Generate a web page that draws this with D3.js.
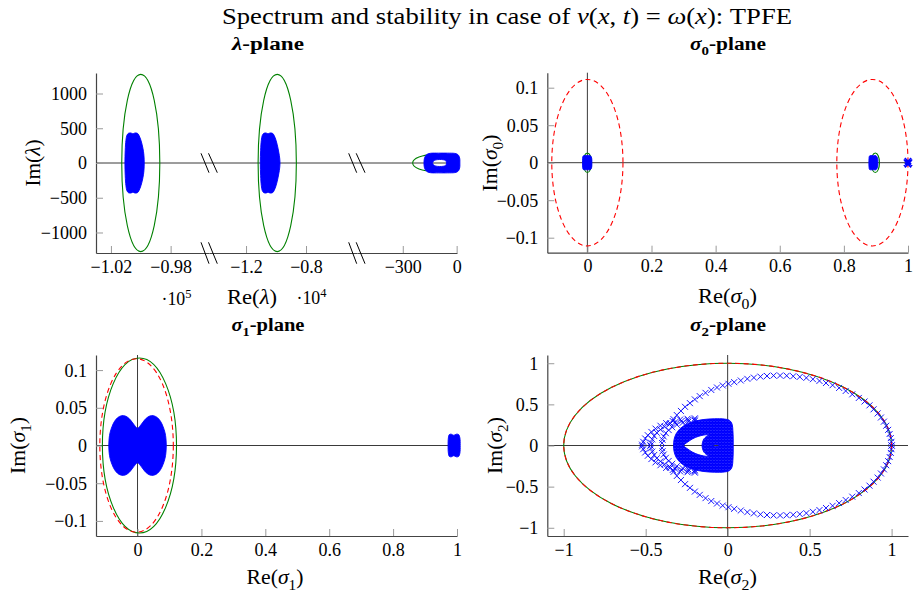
<!DOCTYPE html>
<html><head><meta charset="utf-8">
<script src="https://cdn.jsdelivr.net/npm/d3@7"></script>
<style>
body{margin:0;background:#fff}
svg text{font-family:"Liberation Serif","Times New Roman",serif;fill:#000}
</style>
</head><body>
<svg id="c" width="916" height="594">
<defs>
<pattern id="xpat" width="3" height="3" patternUnits="userSpaceOnUse">
<rect width="3" height="3" fill="#fff"/>
<path d="M0,0L3,3M0,3L3,0" stroke="#0000ff" stroke-width="1.7"/>
</pattern>
</defs>
</svg>
<script>
// ---------------- DATA ----------------
// lambda-plane (three broken x-axis segments)
const lamSegDomains = [[-103000, -95430], [-14470, -4600], [-555, 2]];
const lamSegTicks = [[-102000, -98000], [-12000, -8000], [-300, 0]];
const lamSegTickLabels = [["−1.02", "−0.98"], ["−1.2", "−0.8"], ["−300", "0"]];
const lamYDomain = [-1295, 1295];
const lamYTicks = [-1000, -500, 0, 500, 1000];
const lamYTickLabels = ["−1000", "−500", "0", "500", "1000"];
const lamGreenCircles = [[0, -100000, 1275], [1, -9920, 1275], [2, -125, 120]]; // [segment, centre, radius]
const lamBlob1Upper = [[-101062,0],[-101042,183],[-100995,327],[-100928,399],[-100827,427],[-100660,432],[-100526,420],[-100392,432],[-100224,427],[-100124,399],[-99990,327],[-99856,212],[-99789,111],[-99769,0]];
const lamBlob2Upper = [[-11047,0],[-11027,183],[-10980,327],[-10913,399],[-10813,427],[-10667,432],[-10533,420],[-10400,432],[-10233,427],[-10133,399],[-10000,327],[-9867,212],[-9780,111],[-9733,0]];
const lamRingOuterUpper = [[-182,0],[-180,60],[-174,100],[-162,128],[-145,140],[-100,142],[-50,142],[-10,138],[5,125],[14,95],[18,50],[18,0]];
const lamRingInnerUpper = [[-134,0],[-128,30],[-115,45],[-95,50],[-75,47],[-62,35],[-56,0]];

// sigma0-plane
const s0XDomain = [-0.125, 1.0];
const s0YDomain = [-0.12, 0.12];
const s0XTicks = [0, 0.2, 0.4, 0.6, 0.8, 1];
const s0XTickLabels = ["0", "0.2", "0.4", "0.6", "0.8", "1"];
const s0YTicks = [-0.1, -0.05, 0, 0.05, 0.1];
const s0YTickLabels = ["−0.1", "−0.05", "0", "0.05", "0.1"];
const s0RedCircles = [[0, 0.111], [0.889, 0.111]];
const s0GreenCircles = [[0, 0.013], [0.898, 0.013]];
const s0Blob1Upper = [[-0.015,0],[-0.0148,0.006],[-0.013,0.009],[-0.008,0.0095],[0,0.0093],[0.008,0.0095],[0.012,0.008],[0.014,0.004],[0.014,0]];
const s0Blob2Upper = [[0.878,0],[0.8785,0.006],[0.88,0.009],[0.885,0.0095],[0.892,0.0093],[0.899,0.0095],[0.903,0.008],[0.906,0.004],[0.906,0]];
const s0Crosses = [[0.997,0],[1.0,0.002],[1.0,-0.002],[1.003,0]];

// sigma1-plane
const s1XDomain = [-0.13, 1.0];
const s1YDomain = [-0.12, 0.12];
const s1XTicks = [0, 0.2, 0.4, 0.6, 0.8, 1];
const s1XTickLabels = ["0", "0.2", "0.4", "0.6", "0.8", "1"];
const s1YTicks = [-0.1, -0.05, 0, 0.05, 0.1];
const s1YTickLabels = ["−0.1", "−0.05", "0", "0.05", "0.1"];
const s1GreenCircles = [[0.006, 0.116]];
const s1RedCircles = [[-0.003, 0.115]];
const s1BlobUpper = [[-0.09,0],[-0.089,0.009],[-0.086,0.017],[-0.08,0.025],[-0.072,0.032],[-0.062,0.037],[-0.05,0.0395],[-0.038,0.039],[-0.027,0.036],[-0.017,0.031],[-0.008,0.026],[0,0.023],[0.008,0.026],[0.017,0.031],[0.027,0.036],[0.038,0.039],[0.05,0.0395],[0.062,0.037],[0.072,0.032],[0.08,0.025],[0.086,0.017],[0.089,0.009],[0.09,0]];
const s1Blob2Upper = [[0.972,0],[0.973,0.01],[0.976,0.0145],[0.982,0.015],[0.99,0.0135],[0.998,0.015],[1.005,0.0145],[1.009,0.01],[1.01,0]];

// sigma2-plane
const s2XDomain = [-1.1, 1.1];
const s2YDomain = [-1.1, 1.1];
const s2XTicks = [-1, -0.5, 0, 0.5, 1];
const s2XTickLabels = ["−1", "−0.5", "0", "0.5", "1"];
const s2YTicks = [-1, -0.5, 0, 0.5, 1];
const s2YTickLabels = ["−1", "−0.5", "0", "0.5", "1"];
const s2GreenCircles = [[0, 1]];
const s2RedCircles = [[0, 1]];
const s2LoopUpper = [[-0.35,0.27],[-0.33,0.32],[-0.31,0.37],[-0.285,0.42],[-0.26,0.47],[-0.23,0.515],[-0.20,0.56],[-0.17,0.60],[-0.135,0.64],[-0.10,0.675],[-0.065,0.705],[-0.03,0.73],[0.005,0.75],[0.04,0.77],[0.08,0.79],[0.12,0.81],[0.16,0.825],[0.20,0.837],[0.24,0.845],[0.28,0.85],[0.32,0.85],[0.36,0.848],[0.40,0.842],[0.44,0.834],[0.48,0.822],[0.52,0.806],[0.56,0.785],[0.60,0.76],[0.64,0.733],[0.68,0.70],[0.72,0.663],[0.76,0.622],[0.80,0.578],[0.835,0.535],[0.865,0.488],[0.89,0.44],[0.915,0.39],[0.935,0.34],[0.953,0.29],[0.967,0.24],[0.979,0.19],[0.988,0.14],[0.995,0.09],[0.999,0.045],[1.0,0.0]];
const s2Arc1Upper = [[-0.20,0.33],[-0.245,0.325],[-0.29,0.315],[-0.335,0.297],[-0.375,0.272],[-0.41,0.24],[-0.44,0.205],[-0.465,0.165],[-0.487,0.125],[-0.503,0.085],[-0.515,0.045],[-0.522,0.01]];
const s2Arc2Upper = [[-0.20,0.315],[-0.24,0.31],[-0.28,0.30],[-0.32,0.283],[-0.355,0.258],[-0.385,0.228],[-0.41,0.193],[-0.432,0.155],[-0.448,0.115],[-0.46,0.075],[-0.468,0.035],[-0.471,0.0]];
const s2Arc3Upper = [[-0.20,0.30],[-0.24,0.29],[-0.275,0.275],[-0.31,0.252],[-0.338,0.222],[-0.36,0.188],[-0.377,0.15],[-0.39,0.11],[-0.397,0.07],[-0.40,0.03]];
const s2CoreUpper = [[-0.33,0],[-0.327,0.07],[-0.315,0.14],[-0.29,0.205],[-0.255,0.255],[-0.21,0.29],[-0.15,0.315],[-0.08,0.325],[-0.02,0.322],[0.012,0.305],[0.027,0.26],[0.032,0.18],[0.034,0.08],[0.034,0]];
const s2CoreHoleUpper = [[-0.268,0],[-0.245,0.04],[-0.215,0.08],[-0.18,0.11],[-0.145,0.127],[-0.116,0.131],[-0.13,0.11],[-0.145,0.08],[-0.153,0.04],[-0.156,0]];
const s2CoreNotchUpper = [[-0.088,0],[-0.08,0.01],[-0.065,0.012],[-0.055,0.006],[-0.053,0]];

// ---------------- LAYOUT ----------------
const BLUE = "#0000ff", GREEN = "#008000", RED = "#ff0000";
const AXIS = "#444", TICK = "#9a9a9a", ZERO = "#3a3a3a";
const FS_TICK = 18, FS_LABEL = 20, FS_SUB = 18, FS_TITLE = 24;
const svg = d3.select("#c");

function closed(upper) {
  const low = upper.slice(1, -1).reverse().map(p => [p[0], -p[1]]);
  return upper.concat(low);
}
function mirror(pts) { return pts.concat(pts.map(p => [p[0], -p[1]])); }

function rich(sel, parts, fs) {
  let shift = 0;
  parts.forEach(([t, st]) => {
    st = st || [];
    const ts = sel.append("tspan").text(t);
    let target = 0;
    if (st.includes("sub")) target = fs * 0.3;
    if (st.includes("sup")) target = -fs * 0.4;
    if (target !== shift) { ts.attr("dy", target - shift); shift = target; }
    if (st.includes("sub") || st.includes("sup")) ts.attr("font-size", fs * 0.7);
    if (st.includes("i")) ts.attr("font-style", "italic");
    if (st.includes("b")) ts.attr("font-weight", "bold");
  });
}
function label(x, y, parts, fs, anchor, opts) {
  opts = opts || {};
  const t = svg.append("text").attr("x", x).attr("y", y).attr("font-size", fs)
    .attr("text-anchor", anchor || "middle");
  if (opts.rotate) t.attr("transform", `rotate(-90 ${x} ${y})`);
  if (opts.len) t.attr("textLength", opts.len).attr("lengthAdjust", "spacingAndGlyphs");
  rich(t, parts, fs);
  return t;
}
function styleAxis(g) {
  g.attr("font-family", null).attr("font-size", null);
  g.select(".domain").attr("stroke", AXIS).attr("stroke-width", 1.2);
  g.selectAll(".tick line").attr("stroke", TICK).attr("stroke-width", 1);
  g.selectAll(".tick text").attr("font-size", FS_TICK).attr("fill", "#000");
}
function crosses(g, pts, x, y, s, w) {
  const d = pts.map(([a, b]) => {
    const px = x(a), py = y(b);
    return `M${px - s},${py - s}L${px + s},${py + s}M${px - s},${py + s}L${px + s},${py - s}`;
  }).join("");
  g.append("path").attr("d", d).attr("stroke", BLUE).attr("stroke-width", w).attr("fill", "none");
}
function blob(g, shapes, x, y, fill) {
  const line = d3.line().x(d => x(d[0])).y(d => y(d[1])).curve(d3.curveCatmullRomClosed);
  g.append("path").attr("d", shapes.map(s => line(closed(s))).join(""))
    .attr("fill", fill || BLUE).attr("fill-rule", "evenodd").attr("stroke", BLUE).attr("stroke-width", 0.9);
}
function circles(g, list, x, y, color, dashed) {
  list.forEach(([c, r]) => {
    g.append("ellipse").attr("cx", x(c)).attr("cy", y(0))
      .attr("rx", Math.abs(x(c + r) - x(c))).attr("ry", Math.abs(y(0) - y(r)))
      .attr("fill", "none").attr("stroke", color).attr("stroke-width", 1.1)
      .attr("stroke-dasharray", dashed ? "5,3.5" : null);
  });
}

function standardPanel(box, xDom, yDom, xt, xtl, yt, ytl) {
  const x = d3.scaleLinear().domain(xDom).range([box.l, box.r]);
  const y = d3.scaleLinear().domain(yDom).range([box.b, box.t]);
  const g = svg.append("g");
  g.append("line").attr("x1", box.l).attr("x2", box.r).attr("y1", y(0)).attr("y2", y(0))
    .attr("stroke", ZERO).attr("stroke-width", 1);
  if (xDom[0] < 0 && xDom[1] > 0)
    g.append("line").attr("x1", x(0)).attr("x2", x(0)).attr("y1", box.t).attr("y2", box.b)
      .attr("stroke", ZERO).attr("stroke-width", 1);
  const ax = svg.append("g").attr("transform", `translate(0,${box.b})`)
    .call(d3.axisBottom(x).tickValues(xt).tickFormat((d, i) => xtl[i]).tickSize(-7).tickSizeOuter(0).tickPadding(7));
  styleAxis(ax);
  const ay = svg.append("g").attr("transform", `translate(${box.l},0)`)
    .call(d3.axisLeft(y).tickValues(yt).tickFormat((d, i) => ytl[i]).tickSize(-7).tickSizeOuter(0).tickPadding(9));
  styleAxis(ay);
  ay.selectAll(".tick text").attr("dy", "0.33em");
  return { x, y, g: svg.append("g") };
}

// ---------------- TITLE ----------------
label(222, 24, [["Spectrum and stability in case of "], ["ν", ["i"]], ["("], ["x", ["i"]], [", "], ["t", ["i"]], [") = "], ["ω", ["i"]], ["("], ["x", ["i"]], ["): TPFE"]], FS_TITLE, "start", { len: 570 });

// ---------------- λ-plane ----------------
(function () {
  const box = { l: 96, r: 457, t: 73, b: 253 };
  const segRanges = [[96, 209], [209, 357], [357, 457]];
  const y = d3.scaleLinear().domain(lamYDomain).range([box.b, box.t]);
  const xs = lamSegDomains.map((d, i) => d3.scaleLinear().domain(d).range(segRanges[i]));
  svg.append("line").attr("x1", box.l).attr("x2", box.r).attr("y1", y(0)).attr("y2", y(0))
    .attr("stroke", ZERO).attr("stroke-width", 1);
  xs.forEach((x, i) => {
    const ax = svg.append("g").attr("transform", `translate(0,${box.b})`)
      .call(d3.axisBottom(x).tickValues(lamSegTicks[i]).tickFormat((d, k) => lamSegTickLabels[i][k])
        .tickSize(-7).tickSizeOuter(0).tickPadding(7));
    styleAxis(ax);
  });
  const ay = svg.append("g").attr("transform", `translate(${box.l},0)`)
    .call(d3.axisLeft(y).tickValues(lamYTicks).tickFormat((d, i) => lamYTickLabels[i]).tickSize(-7).tickSizeOuter(0).tickPadding(9));
  styleAxis(ay);
  ay.selectAll(".tick text").attr("dy", "0.33em");
  // axis break marks
  [209, 356.7].forEach(bx => {
    [[y(0), 9.7], [box.b, 10.7]].forEach(([yc, h]) => {
      [[-8, 0], [-0.5, 8.3]].forEach(([a, b]) => {
        svg.append("line").attr("x1", bx + a).attr("y1", yc - h).attr("x2", bx + b).attr("y2", yc + h)
          .attr("stroke", "#000").attr("stroke-width", 1);
      });
    });
  });
  const m = svg.append("g");
  lamGreenCircles.forEach(([s, c, r]) => circles(m, [[c, r]], xs[s], y, GREEN, false));
  blob(m, [lamBlob1Upper], xs[0], y);
  blob(m, [lamBlob2Upper], xs[1], y);
  blob(m, [lamRingOuterUpper, lamRingInnerUpper], xs[2], y);
  label(268, 50, [["λ", ["b", "i"]], ["-plane", ["b"]]], FS_SUB, "middle", { len: 72 });
  label(252, 304, [["Re("], ["λ", ["i"]], [")"]], FS_LABEL, "middle", { len: 50 });
  label(176.5, 305, [["·10"], ["5", ["sup"]]], FS_TICK, "middle", { len: 30 });
  label(311.5, 304, [["·10"], ["4", ["sup"]]], FS_TICK, "middle", { len: 30 });
  label(40, 163, [["Im("], ["λ", ["i"]], [")"]], FS_LABEL, "middle", { rotate: true, len: 47 });
})();

// ---------------- σ0-plane ----------------
(function () {
  const box = { l: 547.3, r: 908, t: 72.7, b: 252.7 };
  const { x, y, g } = standardPanel(box, s0XDomain, s0YDomain, s0XTicks, s0XTickLabels, s0YTicks, s0YTickLabels);
  circles(g, s0GreenCircles, x, y, GREEN, false);
  circles(g, s0RedCircles, x, y, RED, true);
  blob(g, [s0Blob1Upper], x, y);
  blob(g, [s0Blob2Upper], x, y);
  crosses(g, s0Crosses, x, y, 3.2, 1.6);
  label(728, 50, [["σ", ["b", "i"]], ["0", ["sub", "b"]], ["-plane", ["b"]]], FS_SUB, "middle", { len: 76 });
  label(727.5, 303, [["Re("], ["σ", ["i"]], ["0", ["sub"]], [")"]], FS_LABEL, "middle", { len: 59 });
  label(497, 163, [["Im("], ["σ", ["i"]], ["0", ["sub"]], [")"]], FS_LABEL, "middle", { rotate: true, len: 57 });
})();

// ---------------- σ1-plane ----------------
(function () {
  const box = { l: 96, r: 457, t: 355, b: 536 };
  const { x, y, g } = standardPanel(box, s1XDomain, s1YDomain, s1XTicks, s1XTickLabels, s1YTicks, s1YTickLabels);
  circles(g, s1GreenCircles, x, y, GREEN, false);
  circles(g, s1RedCircles, x, y, RED, true);
  blob(g, [s1BlobUpper], x, y);
  blob(g, [s1Blob2Upper], x, y);
  label(268, 331, [["σ", ["b", "i"]], ["1", ["sub", "b"]], ["-plane", ["b"]]], FS_SUB, "middle", { len: 73 });
  label(275, 584, [["Re("], ["σ", ["i"]], ["1", ["sub"]], [")"]], FS_LABEL, "middle", { len: 57 });
  label(25, 445.5, [["Im("], ["σ", ["i"]], ["1", ["sub"]], [")"]], FS_LABEL, "middle", { rotate: true, len: 57 });
})();

// ---------------- σ2-plane ----------------
(function () {
  const box = { l: 547.3, r: 908, t: 355, b: 536 };
  const { x, y, g } = standardPanel(box, s2XDomain, s2YDomain, s2XTicks, s2XTickLabels, s2YTicks, s2YTickLabels);
  circles(g, s2GreenCircles, x, y, GREEN, false);
  circles(g, s2RedCircles, x, y, RED, true);
  blob(g, [s2CoreUpper, s2CoreHoleUpper, s2CoreNotchUpper], x, y, "url(#xpat)");
  [s2LoopUpper, s2Arc1Upper, s2Arc2Upper, s2Arc3Upper].forEach(a => crosses(g, mirror(a), x, y, 3, 0.9));
  label(728, 331, [["σ", ["b", "i"]], ["2", ["sub", "b"]], ["-plane", ["b"]]], FS_SUB, "middle", { len: 76 });
  label(727.5, 584, [["Re("], ["σ", ["i"]], ["2", ["sub"]], [")"]], FS_LABEL, "middle", { len: 59 });
  label(502, 445.5, [["Im("], ["σ", ["i"]], ["2", ["sub"]], [")"]], FS_LABEL, "middle", { rotate: true, len: 57 });
})();
</script>
</body></html>
